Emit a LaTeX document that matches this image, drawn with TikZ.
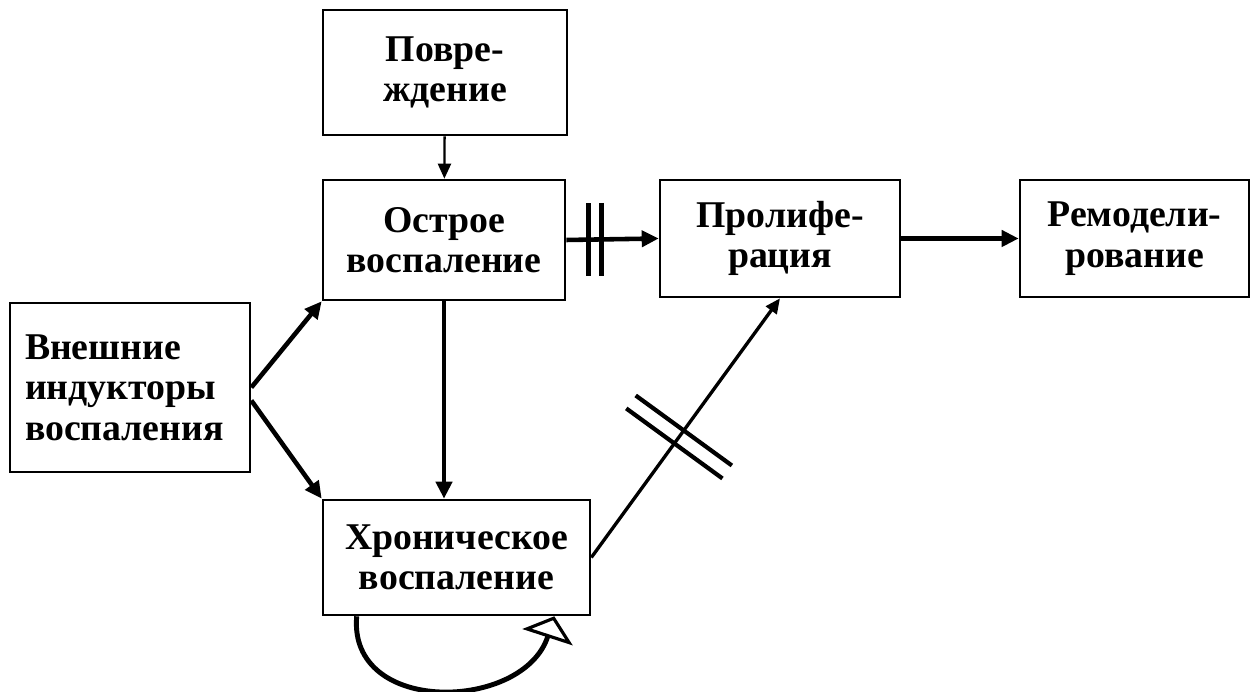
\documentclass[tikz,border=0pt]{standalone}
\usepackage{fontspec}
\setmainfont{Liberation Serif}
\usetikzlibrary{arrows.meta}
\usetikzlibrary{calc}

\begin{document}
\begin{tikzpicture}[
        box/.style={draw, line width=1.5pt, inner sep=2pt,
            font=\bfseries\fontsize{21.5}{23}\selectfont},
        thinarrow/.style={line width=1.3pt, -{Triangle[length=0.3cm,width=0.26cm]}},
        thickarrow/.style={line width=2.6pt, -{Triangle[length=0.34cm,width=0.32cm]}},
        bar/.style={line width=2.4pt},
        looparrow/.style={line width=2.8pt, -{Triangle[open,length=0.44cm,width=1.05cm,line width=1.8pt]}}
    ]
        \useasboundingbox (0,0) rectangle (25,13.84);
        \node[box, align=center, minimum width=4.88cm, minimum height=2.5cm] (povr) at (8.9,12.39) {Повре-\\ждение};
        \node[box, align=center, minimum width=4.84cm, minimum height=2.4cm] (ostr) at (8.88,9.04) {Острое\\воспаление};
        \node[box, align=center, minimum width=4.8cm, minimum height=2.34cm] (prol) at (15.6,9.07) {Пролифе-\\рация};
        \node[box, align=center, minimum width=4.58cm, minimum height=2.34cm] (remod) at (22.69,9.07) {Ремодели-\\рование};
        \node[box, align=left, text width=4.2cm, inner xsep=0.3cm, minimum height=3.38cm] (vnesh) at (2.6,6.09) {Внешние\\индукторы\\воспаления};
        \node[box, align=center, minimum width=5.34cm, minimum height=2.3cm] (hron) at (9.13,2.69) {Хроническое\\воспаление};

        \draw[thinarrow]            (povr) -- (ostr);
        \draw[thickarrow]           (ostr.east) -- (prol.west)
            coordinate[pos=0.24] (b1) coordinate[pos=0.38] (b2);
        \draw[bar]                  ($(b1)+(0,0.73)$) -- ($(b1)+(0,-0.73)$);
        \draw[bar]                  ($(b2)+(0,0.73)$) -- ($(b2)+(0,-0.73)$);
        \draw[thickarrow]           (prol.east) -- (remod.west);
        \draw[thickarrow]           (vnesh.east) -- (ostr.south west);
        \draw[thickarrow]           ([yshift=-0.26cm]vnesh.east) -- (hron.north west);
        \draw[thickarrow]           (ostr.south) -- (ostr.south |- hron.north);
        \draw[thinarrow, line width=1.9pt] (hron.east) -- (prol.south)
            coordinate[pos=0.44] (c1) coordinate[pos=0.49] (c2);
        \draw[bar]                  ($(c1)!1.19cm!90:(prol.south)$) -- ($(c1)!1.19cm!-90:(prol.south)$);
        \draw[bar]                  ($(c2)!1.19cm!90:(prol.south)$) -- ($(c2)!1.19cm!-90:(prol.south)$);
        \draw[looparrow]            ([xshift=0.7cm]hron.south west) to[out=-95, in=-108, looseness=1.3] ([xshift=-0.74cm]hron.south east);
    \end{tikzpicture}
\end{document}
